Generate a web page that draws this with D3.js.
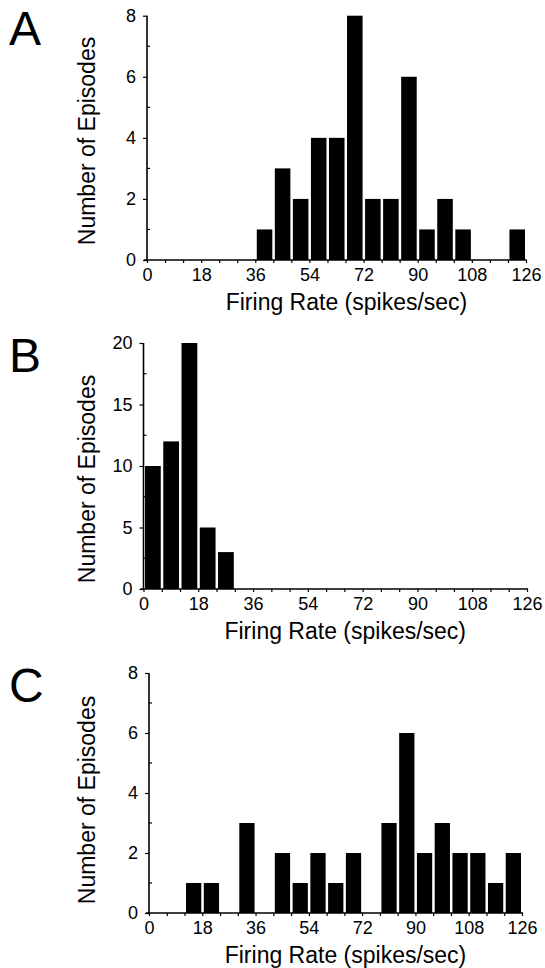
<!DOCTYPE html>
<html>
<head>
<meta charset="utf-8">
<script src="https://cdn.jsdelivr.net/npm/d3@7"></script>
<style>
  body { margin: 0; background: #fff; }
  text { font-family: "Liberation Sans", Arial, Helvetica, sans-serif; fill: #000; }
</style>
</head>
<body>
<script>
// bin starts (spikes/sec), 6 wide
let binStarts = [0, 6, 12, 18, 24, 30, 36, 42, 48, 54, 60, 66, 72, 78, 84, 90, 96, 102, 108, 114, 120]
let binWidth = 6
let xTickLabels = [0, 18, 36, 54, 72, 90, 108, 126]

let countsA = [0, 0, 0, 0, 0, 0, 1, 3, 2, 4, 4, 8, 2, 2, 6, 1, 2, 1, 0, 0, 1]
let countsB = [10, 12, 20, 5, 3, 0, 0, 0, 0, 0, 0, 0, 0, 0, 0, 0, 0, 0, 0, 0, 0]
let countsC = [0, 0, 1, 1, 0, 3, 0, 2, 1, 2, 1, 2, 0, 3, 6, 2, 3, 2, 2, 1, 2]

let yTicksA = [0, 2, 4, 6, 8]
let yTicksB = [0, 5, 10, 15, 20]
let yTicksC = [0, 2, 4, 6, 8]

let panels = [
  {letter: 'A', counts: countsA, yTicks: yTicksA, yMax: 8,  x0: 147,   x1: 526, y0: 260, y1: 15.7, ly: 45,  ytc: 141},
  {letter: 'B', counts: countsB, yTicks: yTicksB, yMax: 20, x0: 143.5, x1: 527, y0: 589, y1: 343,  ly: 372, ytc: 479},
  {letter: 'C', counts: countsC, yTicks: yTicksC, yMax: 8,  x0: 149,   x1: 522, y0: 913, y1: 673,  ly: 702, ytc: 800}
]

let svg = d3.select('body')
  .append('svg')
  .attr('width', 545)
  .attr('height', 968)

function drawPanel(p) {
  let g = svg.append('g')

  let scaleX = d3.scaleLinear().domain([0, 126]).range([p.x0, p.x1])
  let scaleY = d3.scaleLinear().domain([0, p.yMax]).range([p.y0, p.y1])

  // bars
  g.selectAll('rect')
    .data(binStarts.map((b, i) => ({start: b, n: p.counts[i]})).filter(d => d.n > 0))
    .enter()
    .append('rect')
    .attr('x', d => scaleX(d.start) + 1.5)
    .attr('width', d => scaleX(d.start + binWidth) - scaleX(d.start) - 2.5)
    .attr('y', d => scaleY(d.n))
    .attr('height', d => scaleY(0) - scaleY(d.n))
    .attr('fill', '#000')

  // x axis: ticks every bin, labels every 18
  let xAxis = d3.axisBottom(scaleX)
    .tickValues(binStarts.concat([126]))
    .tickSize(3)
    .tickPadding(4)
    .tickFormat(d => xTickLabels.includes(d) ? d : '')
  let gx = g.append('g')
    .attr('transform', `translate(0,${p.y0})`)
    .call(xAxis)
  gx.select('.domain').attr('stroke-width', 1.6).attr('d', `M${p.x0 - 3},0H${p.x1 + 1}`)
  gx.selectAll('.tick line').attr('stroke-width', 1.2)
  gx.selectAll('.tick text')
    .attr('font-size', 18)
    .attr('font-family', '"Liberation Sans", Arial, sans-serif')
    .attr('dy', '0.75em')

  // y axis: major outward, minor inward
  let yAxis = d3.axisLeft(scaleY)
    .tickValues(p.yTicks)
    .tickSize(4)
    .tickPadding(7)
  let gy = g.append('g')
    .attr('transform', `translate(${p.x0},0)`)
    .call(yAxis)
  gy.select('.domain').attr('stroke-width', 1.6).attr('d', `M0,${p.y0}V${p.y1}`)
  gy.selectAll('.tick line').attr('stroke-width', 1.2)
  gy.selectAll('.tick text')
    .attr('font-size', 18)
    .attr('font-family', '"Liberation Sans", Arial, sans-serif')

  let step = p.yTicks[1] - p.yTicks[0]
  let minor = p.yTicks.slice(0, -1).map(t => t + step / 2)
  g.selectAll('line.minor')
    .data(minor)
    .enter()
    .append('line')
    .attr('class', 'minor')
    .attr('x1', p.x0)
    .attr('x2', p.x0 + 3)
    .attr('y1', d => scaleY(d))
    .attr('y2', d => scaleY(d))
    .attr('stroke', '#000')
    .attr('stroke-width', 1.2)

  // titles
  g.append('text')
    .attr('x', (p.x0 + p.x1) / 2 + 10)
    .attr('y', p.y0 + 50)
    .attr('text-anchor', 'middle')
    .attr('font-size', 23)
    .text('Firing Rate (spikes/sec)')

  g.append('text')
    .attr('transform', `translate(95,${p.ytc}) rotate(-90)`)
    .attr('text-anchor', 'middle')
    .attr('font-size', 23)
    .text('Number of Episodes')

  g.append('text')
    .attr('x', 9)
    .attr('y', p.ly)
    .attr('font-size', 48)
    .text(p.letter)
}

panels.forEach(drawPanel)
</script>
</body>
</html>
